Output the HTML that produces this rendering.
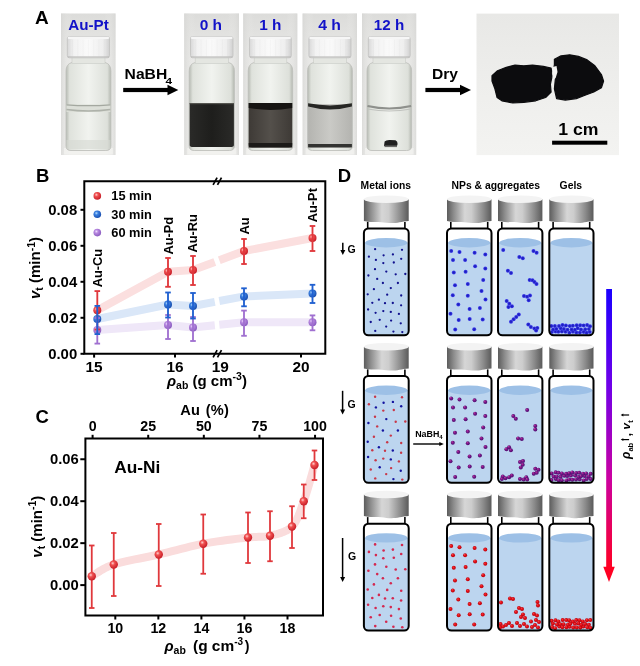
<!DOCTYPE html>
<html><head><meta charset="utf-8"><title>Figure</title>
<style>html,body{margin:0;padding:0;background:#fff;} svg{display:block;}</style></head>
<body><svg width="640" height="666" viewBox="0 0 640 666">
<defs>
<linearGradient id="capg" x1="0" x2="1" y1="0" y2="0">
 <stop offset="0" stop-color="#5c5c5c"/><stop offset="0.15" stop-color="#8c8c8c"/>
 <stop offset="0.4" stop-color="#d6d6d6"/><stop offset="0.55" stop-color="#cdcdcd"/>
 <stop offset="0.82" stop-color="#8a8a8a"/><stop offset="1" stop-color="#5a5a5a"/>
</linearGradient>
<linearGradient id="bar" x1="0" x2="0" y1="0" y2="1">
 <stop offset="0" stop-color="#1a00ff"/><stop offset="0.35" stop-color="#7000e8"/>
 <stop offset="0.68" stop-color="#cc00a0"/><stop offset="1" stop-color="#ff0022"/>
</linearGradient>
<radialGradient id="sr" cx="0.38" cy="0.35" r="0.65"><stop offset="0" stop-color="#ffd0d0"/><stop offset="0.35" stop-color="#f05050"/><stop offset="1" stop-color="#c81e28"/></radialGradient>
<radialGradient id="sb" cx="0.38" cy="0.35" r="0.65"><stop offset="0" stop-color="#b8e0ff"/><stop offset="0.35" stop-color="#3a80e0"/><stop offset="1" stop-color="#1a4fb0"/></radialGradient>
<radialGradient id="sp" cx="0.38" cy="0.35" r="0.65"><stop offset="0" stop-color="#f0e0ff"/><stop offset="0.35" stop-color="#b888e0"/><stop offset="1" stop-color="#8a5cc0"/></radialGradient>
<radialGradient id="nb" cx="0.5" cy="0.5" r="0.5"><stop offset="0" stop-color="#1a1ab0"/><stop offset="0.6" stop-color="#2a2ad8"/><stop offset="1" stop-color="#4646ea"/></radialGradient>
<radialGradient id="np" cx="0.5" cy="0.5" r="0.5" fx="0.3" fy="0.25"><stop offset="0" stop-color="#d03aa0"/><stop offset="0.5" stop-color="#7a1888"/><stop offset="1" stop-color="#4c0c70"/></radialGradient>
<radialGradient id="nr" cx="0.5" cy="0.5" r="0.5" fx="0.35" fy="0.3"><stop offset="0" stop-color="#ff4040"/><stop offset="0.5" stop-color="#e01018"/><stop offset="1" stop-color="#b8000c"/></radialGradient>
<linearGradient id="pbg" x1="0" x2="1" y1="0" y2="0">
 <stop offset="0" stop-color="#d6d6d4" stop-opacity="0.7"/><stop offset="0.2" stop-color="#eeeeec" stop-opacity="0"/><stop offset="0.8" stop-color="#eeeeec" stop-opacity="0"/><stop offset="1" stop-color="#d6d6d4" stop-opacity="0.7"/>
</linearGradient>
<linearGradient id="gelbg" x1="0" x2="0" y1="0" y2="1">
 <stop offset="0" stop-color="#e8e8e6"/><stop offset="0.5" stop-color="#eeeeec"/><stop offset="1" stop-color="#f3f3f1"/>
</linearGradient>
<linearGradient id="pbgv" x1="0" x2="0" y1="0" y2="1">
 <stop offset="0" stop-color="#dcdcda"/><stop offset="0.3" stop-color="#e8e8e6"/><stop offset="1" stop-color="#eeeeec"/>
</linearGradient>
<linearGradient id="glass" x1="0" x2="1" y1="0" y2="0">
 <stop offset="0" stop-color="#b6bab2"/><stop offset="0.08" stop-color="#dfe2dc"/><stop offset="0.5" stop-color="#f1f3ef"/><stop offset="0.92" stop-color="#dde0da"/><stop offset="1" stop-color="#b4b8b0"/>
</linearGradient>
<linearGradient id="capw" x1="0" x2="1" y1="0" y2="0">
 <stop offset="0" stop-color="#d8d8d8"/><stop offset="0.15" stop-color="#f2f2f2"/><stop offset="0.5" stop-color="#fafafa"/><stop offset="0.85" stop-color="#eeeeee"/><stop offset="1" stop-color="#d0d0d0"/>
</linearGradient>
<linearGradient id="dark0" x1="0" x2="1" y1="0" y2="0">
 <stop offset="0" stop-color="#2a2a28"/><stop offset="0.5" stop-color="#1e1e1c"/><stop offset="1" stop-color="#2a2a28"/>
</linearGradient>
<linearGradient id="dark1" x1="0" x2="1" y1="0" y2="0">
 <stop offset="0" stop-color="#3e3a36"/><stop offset="0.5" stop-color="#54504b"/><stop offset="1" stop-color="#3e3a36"/>
</linearGradient>
<linearGradient id="dark4" x1="0" x2="1" y1="0" y2="0">
 <stop offset="0" stop-color="#b4b4b0"/><stop offset="0.5" stop-color="#cacac6"/><stop offset="1" stop-color="#b4b4b0"/>
</linearGradient>
</defs>
<rect width="640" height="666" fill="#fff"/>
<text x="35" y="24.3" style="font-family:'Liberation Sans',Arial,sans-serif;font-weight:bold;font-size:19px" fill="#000">A</text>
<rect x="61" y="13.5" width="54.5" height="141.5" fill="url(#pbgv)"/>
<rect x="61" y="13.5" width="54.5" height="141.5" fill="url(#pbg)"/>
<rect x="64.0" y="148" width="48.900000000000006" height="6.5" fill="#f2f2f0" opacity="0.8"/>
<path d="M72 62.5 Q66.0 64 66.0 71 L66.0 146 Q66.0 150.5 71.0 150.5 L105.9 150.5 Q110.9 150.5 110.9 146 L110.9 71 Q110.9 64 105.0 62.5 Z" fill="url(#glass)" stroke="#bfc1bc" stroke-width="0.9"/>
<rect x="72" y="57.5" width="33.0" height="6" fill="#e4e6e1" stroke="#c9cbc6" stroke-width="0.6"/>
<rect x="67.3" y="36.5" width="42.2" height="21.3" rx="2.2" fill="url(#capw)" stroke="#c2c2c0" stroke-width="0.8"/>
<rect x="67.8" y="36.8" width="41.2" height="2.2" rx="1" fill="#f6f6f6"/>
<line x1="72.6" y1="39.5" x2="72.6" y2="56.5" stroke="#000" stroke-opacity="0.02" stroke-width="1.2"/>
<line x1="77.8" y1="39.5" x2="77.8" y2="56.5" stroke="#000" stroke-opacity="0.02" stroke-width="1.2"/>
<line x1="83.1" y1="39.5" x2="83.1" y2="56.5" stroke="#000" stroke-opacity="0.02" stroke-width="1.2"/>
<line x1="88.4" y1="39.5" x2="88.4" y2="56.5" stroke="#000" stroke-opacity="0.02" stroke-width="1.2"/>
<line x1="93.7" y1="39.5" x2="93.7" y2="56.5" stroke="#000" stroke-opacity="0.02" stroke-width="1.2"/>
<line x1="99.0" y1="39.5" x2="99.0" y2="56.5" stroke="#000" stroke-opacity="0.02" stroke-width="1.2"/>
<line x1="104.2" y1="39.5" x2="104.2" y2="56.5" stroke="#000" stroke-opacity="0.02" stroke-width="1.2"/>
<line x1="67.8" y1="56.9" x2="109.0" y2="56.9" stroke="#b8b8b6" stroke-width="0.9"/>
<rect x="66.5" y="104.5" width="43.900000000000006" height="7.5" fill="#dcdfd8"/>
<path d="M66.5 104.8 Q88.45 106.5 110.4 104.8" stroke="#a4a8a0" stroke-width="1.3" fill="none"/>
<path d="M66.5 109.5 Q88.45 112.5 110.4 109.5" stroke="#aeb2aa" stroke-width="1.4" fill="none"/>
<rect x="66.5" y="140" width="43.900000000000006" height="9" fill="#d6d9d2" opacity="0.6"/>
<text x="68.2" y="30.2" textLength="40.6" lengthAdjust="spacingAndGlyphs" style="font-family:'Liberation Sans',Arial,sans-serif;font-weight:bold;font-size:14.3px" fill="#1212c8">Au-Pt</text>
<rect x="184.2" y="13.5" width="54.80000000000001" height="141.5" fill="url(#pbgv)"/>
<rect x="184.2" y="13.5" width="54.80000000000001" height="141.5" fill="url(#pbg)"/>
<rect x="187.2" y="148" width="49.20000000000002" height="6.5" fill="#f2f2f0" opacity="0.8"/>
<path d="M195.2 62.5 Q189.2 64 189.2 71 L189.2 146 Q189.2 150.5 194.2 150.5 L229.4 150.5 Q234.4 150.5 234.4 146 L234.4 71 Q234.4 64 228.5 62.5 Z" fill="url(#glass)" stroke="#bfc1bc" stroke-width="0.9"/>
<rect x="195.2" y="57.5" width="33.30000000000001" height="6" fill="#e4e6e1" stroke="#c9cbc6" stroke-width="0.6"/>
<rect x="190.5" y="36.5" width="42.500000000000014" height="21.3" rx="2.2" fill="url(#capw)" stroke="#c2c2c0" stroke-width="0.8"/>
<rect x="191.0" y="36.8" width="41.500000000000014" height="2.2" rx="1" fill="#f6f6f6"/>
<line x1="195.8" y1="39.5" x2="195.8" y2="56.5" stroke="#000" stroke-opacity="0.02" stroke-width="1.2"/>
<line x1="201.1" y1="39.5" x2="201.1" y2="56.5" stroke="#000" stroke-opacity="0.02" stroke-width="1.2"/>
<line x1="206.4" y1="39.5" x2="206.4" y2="56.5" stroke="#000" stroke-opacity="0.02" stroke-width="1.2"/>
<line x1="211.8" y1="39.5" x2="211.8" y2="56.5" stroke="#000" stroke-opacity="0.02" stroke-width="1.2"/>
<line x1="217.1" y1="39.5" x2="217.1" y2="56.5" stroke="#000" stroke-opacity="0.02" stroke-width="1.2"/>
<line x1="222.4" y1="39.5" x2="222.4" y2="56.5" stroke="#000" stroke-opacity="0.02" stroke-width="1.2"/>
<line x1="227.7" y1="39.5" x2="227.7" y2="56.5" stroke="#000" stroke-opacity="0.02" stroke-width="1.2"/>
<line x1="191.0" y1="56.9" x2="232.5" y2="56.9" stroke="#b8b8b6" stroke-width="0.9"/>
<path d="M189.7 103 L233.9 103 L233.9 145 Q233.9 147 230.4 147 L193.2 147 Q189.7 147 189.7 145 Z" fill="url(#dark0)"/>
<rect x="189.7" y="103" width="44.20000000000002" height="1.2" fill="#555550"/>
<text x="199.7" y="30.2" textLength="22.4" lengthAdjust="spacingAndGlyphs" style="font-family:'Liberation Sans',Arial,sans-serif;font-weight:bold;font-size:15.3px" fill="#1212c8">0 h</text>
<rect x="243.2" y="13.5" width="54.10000000000002" height="141.5" fill="url(#pbgv)"/>
<rect x="243.2" y="13.5" width="54.10000000000002" height="141.5" fill="url(#pbg)"/>
<rect x="246.2" y="148" width="48.5" height="6.5" fill="#f2f2f0" opacity="0.8"/>
<path d="M254.2 62.5 Q248.2 64 248.2 71 L248.2 146 Q248.2 150.5 253.2 150.5 L287.7 150.5 Q292.7 150.5 292.7 146 L292.7 71 Q292.7 64 286.8 62.5 Z" fill="url(#glass)" stroke="#bfc1bc" stroke-width="0.9"/>
<rect x="254.2" y="57.5" width="32.60000000000002" height="6" fill="#e4e6e1" stroke="#c9cbc6" stroke-width="0.6"/>
<rect x="249.5" y="36.5" width="41.800000000000026" height="21.3" rx="2.2" fill="url(#capw)" stroke="#c2c2c0" stroke-width="0.8"/>
<rect x="250.0" y="36.8" width="40.800000000000026" height="2.2" rx="1" fill="#f6f6f6"/>
<line x1="254.7" y1="39.5" x2="254.7" y2="56.5" stroke="#000" stroke-opacity="0.02" stroke-width="1.2"/>
<line x1="259.9" y1="39.5" x2="259.9" y2="56.5" stroke="#000" stroke-opacity="0.02" stroke-width="1.2"/>
<line x1="265.2" y1="39.5" x2="265.2" y2="56.5" stroke="#000" stroke-opacity="0.02" stroke-width="1.2"/>
<line x1="270.4" y1="39.5" x2="270.4" y2="56.5" stroke="#000" stroke-opacity="0.02" stroke-width="1.2"/>
<line x1="275.6" y1="39.5" x2="275.6" y2="56.5" stroke="#000" stroke-opacity="0.02" stroke-width="1.2"/>
<line x1="280.9" y1="39.5" x2="280.9" y2="56.5" stroke="#000" stroke-opacity="0.02" stroke-width="1.2"/>
<line x1="286.1" y1="39.5" x2="286.1" y2="56.5" stroke="#000" stroke-opacity="0.02" stroke-width="1.2"/>
<line x1="250.0" y1="56.9" x2="290.8" y2="56.9" stroke="#b8b8b6" stroke-width="0.9"/>
<path d="M248.7 103 L292.2 103 L292.2 145 Q292.2 147.5 288.7 147.5 L252.2 147.5 Q248.7 147.5 248.7 145 Z" fill="url(#dark1)"/>
<path d="M248.7 103 L292.2 103 L292.2 108 Q270.45 112 248.7 108 Z" fill="#161412"/>
<rect x="248.7" y="143" width="43.5" height="4.5" fill="#1c1a18"/>
<text x="259.2" y="30.2" textLength="22.2" lengthAdjust="spacingAndGlyphs" style="font-family:'Liberation Sans',Arial,sans-serif;font-weight:bold;font-size:15.3px" fill="#1212c8">1 h</text>
<rect x="302.6" y="13.5" width="54.39999999999998" height="141.5" fill="url(#pbgv)"/>
<rect x="302.6" y="13.5" width="54.39999999999998" height="141.5" fill="url(#pbg)"/>
<rect x="305.6" y="148" width="48.799999999999955" height="6.5" fill="#f2f2f0" opacity="0.8"/>
<path d="M313.6 62.5 Q307.6 64 307.6 71 L307.6 146 Q307.6 150.5 312.6 150.5 L347.4 150.5 Q352.4 150.5 352.4 146 L352.4 71 Q352.4 64 346.5 62.5 Z" fill="url(#glass)" stroke="#bfc1bc" stroke-width="0.9"/>
<rect x="313.6" y="57.5" width="32.89999999999998" height="6" fill="#e4e6e1" stroke="#c9cbc6" stroke-width="0.6"/>
<rect x="308.90000000000003" y="36.5" width="42.09999999999998" height="21.3" rx="2.2" fill="url(#capw)" stroke="#c2c2c0" stroke-width="0.8"/>
<rect x="309.40000000000003" y="36.8" width="41.09999999999998" height="2.2" rx="1" fill="#f6f6f6"/>
<line x1="314.2" y1="39.5" x2="314.2" y2="56.5" stroke="#000" stroke-opacity="0.02" stroke-width="1.2"/>
<line x1="319.4" y1="39.5" x2="319.4" y2="56.5" stroke="#000" stroke-opacity="0.02" stroke-width="1.2"/>
<line x1="324.7" y1="39.5" x2="324.7" y2="56.5" stroke="#000" stroke-opacity="0.02" stroke-width="1.2"/>
<line x1="330.0" y1="39.5" x2="330.0" y2="56.5" stroke="#000" stroke-opacity="0.02" stroke-width="1.2"/>
<line x1="335.2" y1="39.5" x2="335.2" y2="56.5" stroke="#000" stroke-opacity="0.02" stroke-width="1.2"/>
<line x1="340.5" y1="39.5" x2="340.5" y2="56.5" stroke="#000" stroke-opacity="0.02" stroke-width="1.2"/>
<line x1="345.7" y1="39.5" x2="345.7" y2="56.5" stroke="#000" stroke-opacity="0.02" stroke-width="1.2"/>
<line x1="309.40000000000003" y1="56.9" x2="350.5" y2="56.9" stroke="#b8b8b6" stroke-width="0.9"/>
<path d="M308.1 104 L351.9 104 L351.9 145 Q351.9 148 348.4 148 L311.6 148 Q308.1 148 308.1 145 Z" fill="url(#dark4)"/>
<path d="M308.1 103.3 Q330.0 107.5 351.9 103.3 L351.9 106.5 Q330.0 112.5 308.1 106.5 Z" fill="#262624"/>
<rect x="308.1" y="144" width="43.799999999999955" height="3.4" fill="#333331"/>
<text x="318.2" y="30.2" textLength="22.8" lengthAdjust="spacingAndGlyphs" style="font-family:'Liberation Sans',Arial,sans-serif;font-weight:bold;font-size:15.3px" fill="#1212c8">4 h</text>
<rect x="362" y="13.5" width="54.19999999999999" height="141.5" fill="url(#pbgv)"/>
<rect x="362" y="13.5" width="54.19999999999999" height="141.5" fill="url(#pbg)"/>
<rect x="365.0" y="148" width="48.599999999999966" height="6.5" fill="#f2f2f0" opacity="0.8"/>
<path d="M373 62.5 Q367.0 64 367.0 71 L367.0 146 Q367.0 150.5 372.0 150.5 L406.59999999999997 150.5 Q411.59999999999997 150.5 411.59999999999997 146 L411.59999999999997 71 Q411.59999999999997 64 405.7 62.5 Z" fill="url(#glass)" stroke="#bfc1bc" stroke-width="0.9"/>
<rect x="373" y="57.5" width="32.69999999999999" height="6" fill="#e4e6e1" stroke="#c9cbc6" stroke-width="0.6"/>
<rect x="368.3" y="36.5" width="41.89999999999999" height="21.3" rx="2.2" fill="url(#capw)" stroke="#c2c2c0" stroke-width="0.8"/>
<rect x="368.8" y="36.8" width="40.89999999999999" height="2.2" rx="1" fill="#f6f6f6"/>
<line x1="373.5" y1="39.5" x2="373.5" y2="56.5" stroke="#000" stroke-opacity="0.02" stroke-width="1.2"/>
<line x1="378.8" y1="39.5" x2="378.8" y2="56.5" stroke="#000" stroke-opacity="0.02" stroke-width="1.2"/>
<line x1="384.0" y1="39.5" x2="384.0" y2="56.5" stroke="#000" stroke-opacity="0.02" stroke-width="1.2"/>
<line x1="389.2" y1="39.5" x2="389.2" y2="56.5" stroke="#000" stroke-opacity="0.02" stroke-width="1.2"/>
<line x1="394.5" y1="39.5" x2="394.5" y2="56.5" stroke="#000" stroke-opacity="0.02" stroke-width="1.2"/>
<line x1="399.7" y1="39.5" x2="399.7" y2="56.5" stroke="#000" stroke-opacity="0.02" stroke-width="1.2"/>
<line x1="405.0" y1="39.5" x2="405.0" y2="56.5" stroke="#000" stroke-opacity="0.02" stroke-width="1.2"/>
<line x1="368.8" y1="56.9" x2="409.7" y2="56.9" stroke="#b8b8b6" stroke-width="0.9"/>
<path d="M367.5 106 Q389.29999999999995 111 411.09999999999997 106" stroke="#8e908c" stroke-width="2" fill="none"/>
<path d="M367.5 109 Q389.29999999999995 113 411.09999999999997 109" stroke="#c0c2be" stroke-width="1.2" fill="none"/>
<path d="M384 146 L384.6 141.5 Q386 139.8 390 140 L395.5 140.2 Q397.8 141.5 397.6 144 L397 146 Z" fill="#202020"/>
<rect x="384.5" y="145.5" width="12.5" height="1.6" fill="#6a6a68"/>
<text x="373.8" y="30.2" textLength="30.4" lengthAdjust="spacingAndGlyphs" style="font-family:'Liberation Sans',Arial,sans-serif;font-weight:bold;font-size:15.3px" fill="#1212c8">12 h</text>
<text x="124.6" y="79.3" textLength="42.6" lengthAdjust="spacingAndGlyphs" style="font-family:'Liberation Sans',Arial,sans-serif;font-weight:bold;font-size:14.5px" fill="#000">NaBH</text>
<text x="165.6" y="83.8" textLength="6.6" lengthAdjust="spacingAndGlyphs" style="font-family:'Liberation Sans',Arial,sans-serif;font-weight:bold;font-size:9px" fill="#000">4</text>
<rect x="123.2" y="87.9" width="45.3" height="4.2" fill="#000"/>
<path d="M167.5 84.8 L178.3 90 L167.5 95.2 Z" fill="#000"/>
<text x="432" y="79.3" textLength="26" lengthAdjust="spacingAndGlyphs" style="font-family:'Liberation Sans',Arial,sans-serif;font-weight:bold;font-size:14.3px" fill="#000">Dry</text>
<rect x="425.4" y="87.9" width="35.60000000000002" height="4.2" fill="#000"/>
<path d="M460 84.8 L471 90 L460 95.2 Z" fill="#000"/>
<rect x="476.5" y="13.6" width="142.5" height="141.5" fill="url(#gelbg)"/>
<polygon points="492,75.6 497.5,70.8 506.3,67.3 515,65.1 523.8,65.8 532.5,65.1 543.4,66.4 551.1,68 552.2,75.6 550.4,84.4 551.1,92 545.6,97.5 535.8,100.8 523.8,102.3 512.8,103 501.9,100.8 497.1,97.5 494.9,88.75 492,81" fill="#0c0c0e" stroke="#0c0c0e" stroke-width="1.2" stroke-linejoin="round"/>
<polygon points="554.4,59.2 561,55.9 569.7,54.8 578.4,56.4 587.2,59.9 594.9,65.8 601.4,74.5 603.6,81.1 601.4,87.7 593.8,92 585,95.3 576.3,98.6 565.3,100.1 556.6,98.6 554.4,88.75 555.5,77.8 553.3,71.25 554.4,64.7" fill="#0c0c0e" stroke="#0c0c0e" stroke-width="1.2" stroke-linejoin="round"/>
<path d="M552.6 67 L556.5 66 L557.5 72 L555.6 78 L553.2 80 L552.2 74 Z" fill="#f4f4f2"/>
<text x="558.3" y="135.2" textLength="40.2" lengthAdjust="spacingAndGlyphs" style="font-family:'Liberation Sans',Arial,sans-serif;font-weight:bold;font-size:16px" fill="#000">1 cm</text>
<rect x="552.1" y="140.7" width="55.2" height="4" fill="#000"/>
<text x="36" y="181.9" style="font-family:'Liberation Sans',Arial,sans-serif;font-weight:bold;font-size:18.5px" fill="#000">B</text>
<polyline points="97.3,310.3 168,271.8 193,270.0 214.8,261.878431372549" fill="none" stroke="#fbdfdf" stroke-width="8" stroke-linejoin="round" stroke-linecap="butt"/>
<polyline points="219.3,260.2019607843137 244,251.0 312.5,238.0" fill="none" stroke="#fbdfdf" stroke-width="8" stroke-linejoin="round" stroke-linecap="butt"/>
<polyline points="97.3,319.0 168,304.5 193,306.0 214.8,301.8964705882353" fill="none" stroke="#dae7f8" stroke-width="8" stroke-linejoin="round" stroke-linecap="butt"/>
<polyline points="219.3,301.0494117647059 244,296.4 312.5,293.6" fill="none" stroke="#dae7f8" stroke-width="8" stroke-linejoin="round" stroke-linecap="butt"/>
<polyline points="97.3,330.0 168,325.0 193,327.5 214.8,325.2345098039216" fill="none" stroke="#efe7f8" stroke-width="8" stroke-linejoin="round" stroke-linecap="butt"/>
<polyline points="219.3,324.766862745098 244,322.2 312.5,322.2" fill="none" stroke="#efe7f8" stroke-width="8" stroke-linejoin="round" stroke-linecap="butt"/>
<circle cx="97.3" cy="310.3" r="4.0" fill="url(#sr)"/>
<circle cx="168" cy="271.8" r="4.0" fill="url(#sr)"/>
<circle cx="193" cy="270.0" r="4.0" fill="url(#sr)"/>
<circle cx="244" cy="251.0" r="4.0" fill="url(#sr)"/>
<circle cx="312.5" cy="238.0" r="4.0" fill="url(#sr)"/>
<circle cx="97.3" cy="319.0" r="4.0" fill="url(#sb)"/>
<circle cx="168" cy="304.5" r="4.0" fill="url(#sb)"/>
<circle cx="193" cy="306.0" r="4.0" fill="url(#sb)"/>
<circle cx="244" cy="296.4" r="4.0" fill="url(#sb)"/>
<circle cx="312.5" cy="293.6" r="4.0" fill="url(#sb)"/>
<circle cx="97.3" cy="330.0" r="4.0" fill="url(#sp)"/>
<circle cx="168" cy="325.0" r="4.0" fill="url(#sp)"/>
<circle cx="193" cy="327.5" r="4.0" fill="url(#sp)"/>
<circle cx="244" cy="322.2" r="4.0" fill="url(#sp)"/>
<circle cx="312.5" cy="322.2" r="4.0" fill="url(#sp)"/>
<line x1="97.3" y1="291.1" x2="97.3" y2="329.5" stroke="#e0383c" stroke-width="1.85"/>
<line x1="94.5" y1="291.1" x2="100.1" y2="291.1" stroke="#e0383c" stroke-width="1.85"/>
<line x1="94.5" y1="329.5" x2="100.1" y2="329.5" stroke="#e0383c" stroke-width="1.85"/>
<line x1="168" y1="258" x2="168" y2="286.8" stroke="#e0383c" stroke-width="1.85"/>
<line x1="165.2" y1="258" x2="170.8" y2="258" stroke="#e0383c" stroke-width="1.85"/>
<line x1="165.2" y1="286.8" x2="170.8" y2="286.8" stroke="#e0383c" stroke-width="1.85"/>
<line x1="193" y1="256" x2="193" y2="285" stroke="#e0383c" stroke-width="1.85"/>
<line x1="190.2" y1="256" x2="195.8" y2="256" stroke="#e0383c" stroke-width="1.85"/>
<line x1="190.2" y1="285" x2="195.8" y2="285" stroke="#e0383c" stroke-width="1.85"/>
<line x1="244" y1="239" x2="244" y2="264" stroke="#e0383c" stroke-width="1.85"/>
<line x1="241.2" y1="239" x2="246.8" y2="239" stroke="#e0383c" stroke-width="1.85"/>
<line x1="241.2" y1="264" x2="246.8" y2="264" stroke="#e0383c" stroke-width="1.85"/>
<line x1="312.5" y1="226" x2="312.5" y2="251" stroke="#e0383c" stroke-width="1.85"/>
<line x1="309.7" y1="226" x2="315.3" y2="226" stroke="#e0383c" stroke-width="1.85"/>
<line x1="309.7" y1="251" x2="315.3" y2="251" stroke="#e0383c" stroke-width="1.85"/>
<line x1="97.3" y1="318" x2="97.3" y2="343.6" stroke="#a070d0" stroke-width="1.85"/>
<line x1="94.5" y1="318" x2="100.1" y2="318" stroke="#a070d0" stroke-width="1.85"/>
<line x1="94.5" y1="343.6" x2="100.1" y2="343.6" stroke="#a070d0" stroke-width="1.85"/>
<line x1="168" y1="315" x2="168" y2="339" stroke="#a070d0" stroke-width="1.85"/>
<line x1="165.2" y1="315" x2="170.8" y2="315" stroke="#a070d0" stroke-width="1.85"/>
<line x1="165.2" y1="339" x2="170.8" y2="339" stroke="#a070d0" stroke-width="1.85"/>
<line x1="193" y1="317" x2="193" y2="341" stroke="#a070d0" stroke-width="1.85"/>
<line x1="190.2" y1="317" x2="195.8" y2="317" stroke="#a070d0" stroke-width="1.85"/>
<line x1="190.2" y1="341" x2="195.8" y2="341" stroke="#a070d0" stroke-width="1.85"/>
<line x1="244" y1="310.6" x2="244" y2="335.8" stroke="#a070d0" stroke-width="1.85"/>
<line x1="241.2" y1="310.6" x2="246.8" y2="310.6" stroke="#a070d0" stroke-width="1.85"/>
<line x1="241.2" y1="335.8" x2="246.8" y2="335.8" stroke="#a070d0" stroke-width="1.85"/>
<line x1="312.5" y1="315.4" x2="312.5" y2="330.3" stroke="#a070d0" stroke-width="1.85"/>
<line x1="309.7" y1="315.4" x2="315.3" y2="315.4" stroke="#a070d0" stroke-width="1.85"/>
<line x1="309.7" y1="330.3" x2="315.3" y2="330.3" stroke="#a070d0" stroke-width="1.85"/>
<line x1="97.3" y1="305.9" x2="97.3" y2="334.1" stroke="#2060d0" stroke-width="1.85"/>
<line x1="94.5" y1="305.9" x2="100.1" y2="305.9" stroke="#2060d0" stroke-width="1.85"/>
<line x1="94.5" y1="334.1" x2="100.1" y2="334.1" stroke="#2060d0" stroke-width="1.85"/>
<line x1="168" y1="292.5" x2="168" y2="317.5" stroke="#2060d0" stroke-width="1.85"/>
<line x1="165.2" y1="292.5" x2="170.8" y2="292.5" stroke="#2060d0" stroke-width="1.85"/>
<line x1="165.2" y1="317.5" x2="170.8" y2="317.5" stroke="#2060d0" stroke-width="1.85"/>
<line x1="193" y1="293" x2="193" y2="318.5" stroke="#2060d0" stroke-width="1.85"/>
<line x1="190.2" y1="293" x2="195.8" y2="293" stroke="#2060d0" stroke-width="1.85"/>
<line x1="190.2" y1="318.5" x2="195.8" y2="318.5" stroke="#2060d0" stroke-width="1.85"/>
<line x1="244" y1="288.3" x2="244" y2="306.3" stroke="#2060d0" stroke-width="1.85"/>
<line x1="241.2" y1="288.3" x2="246.8" y2="288.3" stroke="#2060d0" stroke-width="1.85"/>
<line x1="241.2" y1="306.3" x2="246.8" y2="306.3" stroke="#2060d0" stroke-width="1.85"/>
<line x1="312.5" y1="284.8" x2="312.5" y2="303" stroke="#2060d0" stroke-width="1.85"/>
<line x1="309.7" y1="284.8" x2="315.3" y2="284.8" stroke="#2060d0" stroke-width="1.85"/>
<line x1="309.7" y1="303" x2="315.3" y2="303" stroke="#2060d0" stroke-width="1.85"/>
<path d="M84.3 181.2 L84.3 353.8 L325.3 353.8 L325.3 181.2 Z" fill="none" stroke="#000" stroke-width="2"/>
<line x1="213.1" y1="184.79999999999998" x2="217.1" y2="177.6" stroke="#000" stroke-width="1.7"/>
<line x1="217.5" y1="184.79999999999998" x2="221.5" y2="177.6" stroke="#000" stroke-width="1.7"/>
<line x1="213.1" y1="357.40000000000003" x2="217.1" y2="350.2" stroke="#000" stroke-width="1.7"/>
<line x1="217.5" y1="357.40000000000003" x2="221.5" y2="350.2" stroke="#000" stroke-width="1.7"/>
<line x1="80.5" y1="353.8" x2="84.3" y2="353.8" stroke="#000" stroke-width="2"/>
<text x="77.2" y="359.1" text-anchor="end" style="font-family:'Liberation Sans',Arial,sans-serif;font-weight:bold;font-size:14.9px" fill="#000">0.00</text>
<line x1="80.5" y1="317.8" x2="84.3" y2="317.8" stroke="#000" stroke-width="2"/>
<text x="77.2" y="323.1" text-anchor="end" style="font-family:'Liberation Sans',Arial,sans-serif;font-weight:bold;font-size:14.9px" fill="#000">0.02</text>
<line x1="80.5" y1="281.8" x2="84.3" y2="281.8" stroke="#000" stroke-width="2"/>
<text x="77.2" y="287.1" text-anchor="end" style="font-family:'Liberation Sans',Arial,sans-serif;font-weight:bold;font-size:14.9px" fill="#000">0.04</text>
<line x1="80.5" y1="245.8" x2="84.3" y2="245.8" stroke="#000" stroke-width="2"/>
<text x="77.2" y="251.10000000000002" text-anchor="end" style="font-family:'Liberation Sans',Arial,sans-serif;font-weight:bold;font-size:14.9px" fill="#000">0.06</text>
<line x1="80.5" y1="209.8" x2="84.3" y2="209.8" stroke="#000" stroke-width="2"/>
<text x="77.2" y="215.10000000000002" text-anchor="end" style="font-family:'Liberation Sans',Arial,sans-serif;font-weight:bold;font-size:14.9px" fill="#000">0.08</text>
<line x1="94.1" y1="353.8" x2="94.1" y2="357.6" stroke="#000" stroke-width="2"/>
<text x="94.1" y="372.1" text-anchor="middle" style="font-family:'Liberation Sans',Arial,sans-serif;font-weight:bold;font-size:15.4px" fill="#000">15</text>
<line x1="175" y1="353.8" x2="175" y2="357.6" stroke="#000" stroke-width="2"/>
<text x="175" y="372.1" text-anchor="middle" style="font-family:'Liberation Sans',Arial,sans-serif;font-weight:bold;font-size:15.4px" fill="#000">16</text>
<text x="220.2" y="372.1" text-anchor="middle" style="font-family:'Liberation Sans',Arial,sans-serif;font-weight:bold;font-size:15.4px" fill="#000">19</text>
<line x1="301" y1="353.8" x2="301" y2="357.6" stroke="#000" stroke-width="2"/>
<text x="301" y="372.1" text-anchor="middle" style="font-family:'Liberation Sans',Arial,sans-serif;font-weight:bold;font-size:15.4px" fill="#000">20</text>
<text x="167" y="385.5" style="font-family:'Liberation Sans',Arial,sans-serif;font-weight:bold;font-size:15px" fill="#000"><tspan font-style="italic">ρ</tspan><tspan font-size="10.5px" dy="3">ab</tspan><tspan dy="-3"> (g cm</tspan><tspan font-size="10.5px" dy="-5.5">-3</tspan><tspan dy="5.5">)</tspan></text>
<text transform="translate(40.0,268) rotate(-90)" text-anchor="middle" style="font-family:'Liberation Sans',Arial,sans-serif;font-weight:bold;font-size:15px" fill="#000"><tspan font-style="italic">v</tspan><tspan font-size="10.5px" dy="3">t</tspan><tspan dy="-3"> (min</tspan><tspan font-size="10.5px" dy="-5.5">-1</tspan><tspan dy="5.5">)</tspan></text>
<circle cx="97.3" cy="195.9" r="3.8" fill="url(#sr)"/>
<text x="111.3" y="200.1" style="font-family:'Liberation Sans',Arial,sans-serif;font-weight:bold;font-size:12.8px" fill="#000">15 min</text>
<circle cx="97.3" cy="214.3" r="3.8" fill="url(#sb)"/>
<text x="111.3" y="218.5" style="font-family:'Liberation Sans',Arial,sans-serif;font-weight:bold;font-size:12.8px" fill="#000">30 min</text>
<circle cx="97.3" cy="232.6" r="3.8" fill="url(#sp)"/>
<text x="111.3" y="236.79999999999998" style="font-family:'Liberation Sans',Arial,sans-serif;font-weight:bold;font-size:12.8px" fill="#000">60 min</text>
<text transform="translate(102.4,287.2) rotate(-90)" style="font-family:'Liberation Sans',Arial,sans-serif;font-weight:bold;font-size:12.8px" fill="#000">Au-Cu</text>
<text transform="translate(173.0,254.5) rotate(-90)" style="font-family:'Liberation Sans',Arial,sans-serif;font-weight:bold;font-size:12.8px" fill="#000">Au-Pd</text>
<text transform="translate(197.3,252.6) rotate(-90)" style="font-family:'Liberation Sans',Arial,sans-serif;font-weight:bold;font-size:12.8px" fill="#000">Au-Ru</text>
<text transform="translate(249.4,234.6) rotate(-90)" style="font-family:'Liberation Sans',Arial,sans-serif;font-weight:bold;font-size:12.8px" fill="#000">Au</text>
<text transform="translate(317.4,222.2) rotate(-90)" style="font-family:'Liberation Sans',Arial,sans-serif;font-weight:bold;font-size:12.8px" fill="#000">Au-Pt</text>
<text x="35.4" y="422.5" style="font-family:'Liberation Sans',Arial,sans-serif;font-weight:bold;font-size:18.5px" fill="#000">C</text>
<polyline points="91.75,576.25 92.96,575.54 94.37,574.62 96.01,573.53 97.86,572.31 99.94,571.00 102.24,569.64 104.77,568.27 107.53,566.93 110.52,565.66 113.75,564.50 117.32,563.43 121.29,562.40 125.58,561.39 130.12,560.41 134.84,559.44 139.68,558.47 144.56,557.50 149.41,556.52 154.17,555.52 158.75,554.50 163.22,553.44 167.68,552.33 172.13,551.19 176.57,550.04 181.02,548.89 185.46,547.76 189.90,546.67 194.34,545.62 198.79,544.65 203.25,543.75 207.82,542.92 212.55,542.14 217.37,541.40 222.22,540.71 227.03,540.06 231.73,539.46 236.24,538.90 240.50,538.39 244.45,537.92 248.00,537.50 251.12,537.18 253.86,536.98 256.27,536.88 258.44,536.84 260.42,536.81 262.29,536.77 264.12,536.68 265.96,536.51 267.90,536.21 270.00,535.75 272.25,535.20 274.56,534.64 276.92,534.03 279.29,533.36 281.64,532.59 283.94,531.71 286.15,530.69 288.26,529.49 290.22,528.11 292.00,526.50 293.59,524.67 295.02,522.65 296.31,520.45 297.49,518.08 298.58,515.56 299.61,512.91 300.62,510.14 301.63,507.26 302.66,504.29 303.75,501.25 304.91,497.91 306.14,494.12 307.39,490.04 308.64,485.80 309.86,481.55 311.02,477.42 312.10,473.56 313.05,470.11 313.86,467.21 314.50,465.00" fill="none" stroke="#fadcdc" stroke-width="8" stroke-linejoin="round"/>
<line x1="91.75" y1="545.5" x2="91.75" y2="608" stroke="#e0383c" stroke-width="1.8"/>
<line x1="89.0" y1="545.5" x2="94.5" y2="545.5" stroke="#e0383c" stroke-width="1.8"/>
<line x1="89.0" y1="608" x2="94.5" y2="608" stroke="#e0383c" stroke-width="1.8"/>
<circle cx="91.75" cy="576.25" r="4.2" fill="url(#sr)"/>
<line x1="113.75" y1="533" x2="113.75" y2="596" stroke="#e0383c" stroke-width="1.8"/>
<line x1="111.0" y1="533" x2="116.5" y2="533" stroke="#e0383c" stroke-width="1.8"/>
<line x1="111.0" y1="596" x2="116.5" y2="596" stroke="#e0383c" stroke-width="1.8"/>
<circle cx="113.75" cy="564.5" r="4.2" fill="url(#sr)"/>
<line x1="158.75" y1="524" x2="158.75" y2="586" stroke="#e0383c" stroke-width="1.8"/>
<line x1="156.0" y1="524" x2="161.5" y2="524" stroke="#e0383c" stroke-width="1.8"/>
<line x1="156.0" y1="586" x2="161.5" y2="586" stroke="#e0383c" stroke-width="1.8"/>
<circle cx="158.75" cy="554.5" r="4.2" fill="url(#sr)"/>
<line x1="203.25" y1="514.5" x2="203.25" y2="573.75" stroke="#e0383c" stroke-width="1.8"/>
<line x1="200.5" y1="514.5" x2="206.0" y2="514.5" stroke="#e0383c" stroke-width="1.8"/>
<line x1="200.5" y1="573.75" x2="206.0" y2="573.75" stroke="#e0383c" stroke-width="1.8"/>
<circle cx="203.25" cy="543.75" r="4.2" fill="url(#sr)"/>
<line x1="248" y1="512.5" x2="248" y2="563" stroke="#e0383c" stroke-width="1.8"/>
<line x1="245.25" y1="512.5" x2="250.75" y2="512.5" stroke="#e0383c" stroke-width="1.8"/>
<line x1="245.25" y1="563" x2="250.75" y2="563" stroke="#e0383c" stroke-width="1.8"/>
<circle cx="248" cy="537.5" r="4.2" fill="url(#sr)"/>
<line x1="270" y1="511.25" x2="270" y2="561.25" stroke="#e0383c" stroke-width="1.8"/>
<line x1="267.25" y1="511.25" x2="272.75" y2="511.25" stroke="#e0383c" stroke-width="1.8"/>
<line x1="267.25" y1="561.25" x2="272.75" y2="561.25" stroke="#e0383c" stroke-width="1.8"/>
<circle cx="270" cy="535.75" r="4.2" fill="url(#sr)"/>
<line x1="292" y1="506.25" x2="292" y2="548" stroke="#e0383c" stroke-width="1.8"/>
<line x1="289.25" y1="506.25" x2="294.75" y2="506.25" stroke="#e0383c" stroke-width="1.8"/>
<line x1="289.25" y1="548" x2="294.75" y2="548" stroke="#e0383c" stroke-width="1.8"/>
<circle cx="292" cy="526.5" r="4.2" fill="url(#sr)"/>
<line x1="303.75" y1="484.5" x2="303.75" y2="518.25" stroke="#e0383c" stroke-width="1.8"/>
<line x1="301.0" y1="484.5" x2="306.5" y2="484.5" stroke="#e0383c" stroke-width="1.8"/>
<line x1="301.0" y1="518.25" x2="306.5" y2="518.25" stroke="#e0383c" stroke-width="1.8"/>
<circle cx="303.75" cy="501.25" r="4.2" fill="url(#sr)"/>
<line x1="314.5" y1="450.5" x2="314.5" y2="480" stroke="#e0383c" stroke-width="1.8"/>
<line x1="311.75" y1="450.5" x2="317.25" y2="450.5" stroke="#e0383c" stroke-width="1.8"/>
<line x1="311.75" y1="480" x2="317.25" y2="480" stroke="#e0383c" stroke-width="1.8"/>
<circle cx="314.5" cy="465" r="4.2" fill="url(#sr)"/>
<path d="M85.4 438.6 L85.4 615.5 L323.0 615.5 L323.0 438.6 Z" fill="none" stroke="#000" stroke-width="2"/>
<line x1="80.3" y1="585.1" x2="85.4" y2="585.1" stroke="#000" stroke-width="2"/>
<text x="78.8" y="590.3000000000001" text-anchor="end" style="font-family:'Liberation Sans',Arial,sans-serif;font-weight:bold;font-size:14.8px" fill="#000">0.00</text>
<line x1="80.3" y1="543.15" x2="85.4" y2="543.15" stroke="#000" stroke-width="2"/>
<text x="78.8" y="548.35" text-anchor="end" style="font-family:'Liberation Sans',Arial,sans-serif;font-weight:bold;font-size:14.8px" fill="#000">0.02</text>
<line x1="80.3" y1="501.20000000000005" x2="85.4" y2="501.20000000000005" stroke="#000" stroke-width="2"/>
<text x="78.8" y="506.40000000000003" text-anchor="end" style="font-family:'Liberation Sans',Arial,sans-serif;font-weight:bold;font-size:14.8px" fill="#000">0.04</text>
<line x1="80.3" y1="459.25" x2="85.4" y2="459.25" stroke="#000" stroke-width="2"/>
<text x="78.8" y="464.45" text-anchor="end" style="font-family:'Liberation Sans',Arial,sans-serif;font-weight:bold;font-size:14.8px" fill="#000">0.06</text>
<line x1="115.3" y1="615.5" x2="115.3" y2="619.5" stroke="#000" stroke-width="2"/>
<text x="115.3" y="632.8" text-anchor="middle" style="font-family:'Liberation Sans',Arial,sans-serif;font-weight:bold;font-size:14.2px" fill="#000">10</text>
<line x1="158.35" y1="615.5" x2="158.35" y2="619.5" stroke="#000" stroke-width="2"/>
<text x="158.35" y="632.8" text-anchor="middle" style="font-family:'Liberation Sans',Arial,sans-serif;font-weight:bold;font-size:14.2px" fill="#000">12</text>
<line x1="201.39999999999998" y1="615.5" x2="201.39999999999998" y2="619.5" stroke="#000" stroke-width="2"/>
<text x="201.39999999999998" y="632.8" text-anchor="middle" style="font-family:'Liberation Sans',Arial,sans-serif;font-weight:bold;font-size:14.2px" fill="#000">14</text>
<line x1="244.45" y1="615.5" x2="244.45" y2="619.5" stroke="#000" stroke-width="2"/>
<text x="244.45" y="632.8" text-anchor="middle" style="font-family:'Liberation Sans',Arial,sans-serif;font-weight:bold;font-size:14.2px" fill="#000">16</text>
<line x1="287.5" y1="615.5" x2="287.5" y2="619.5" stroke="#000" stroke-width="2"/>
<text x="287.5" y="632.8" text-anchor="middle" style="font-family:'Liberation Sans',Arial,sans-serif;font-weight:bold;font-size:14.2px" fill="#000">18</text>
<line x1="92.6" y1="438.6" x2="92.6" y2="434.8" stroke="#000" stroke-width="2"/>
<text x="92.6" y="430.8" text-anchor="middle" style="font-family:'Liberation Sans',Arial,sans-serif;font-weight:bold;font-size:14.2px" fill="#000">0</text>
<line x1="148.21249999999998" y1="438.6" x2="148.21249999999998" y2="434.8" stroke="#000" stroke-width="2"/>
<text x="148.21249999999998" y="430.8" text-anchor="middle" style="font-family:'Liberation Sans',Arial,sans-serif;font-weight:bold;font-size:14.2px" fill="#000">25</text>
<line x1="203.825" y1="438.6" x2="203.825" y2="434.8" stroke="#000" stroke-width="2"/>
<text x="203.825" y="430.8" text-anchor="middle" style="font-family:'Liberation Sans',Arial,sans-serif;font-weight:bold;font-size:14.2px" fill="#000">50</text>
<line x1="259.4375" y1="438.6" x2="259.4375" y2="434.8" stroke="#000" stroke-width="2"/>
<text x="259.4375" y="430.8" text-anchor="middle" style="font-family:'Liberation Sans',Arial,sans-serif;font-weight:bold;font-size:14.2px" fill="#000">75</text>
<line x1="315.04999999999995" y1="438.6" x2="315.04999999999995" y2="434.8" stroke="#000" stroke-width="2"/>
<text x="315.04999999999995" y="430.8" text-anchor="middle" style="font-family:'Liberation Sans',Arial,sans-serif;font-weight:bold;font-size:14.2px" fill="#000">100</text>
<text x="180.2" y="414.8" style="font-family:'Liberation Sans',Arial,sans-serif;font-weight:bold;font-size:14.6px;letter-spacing:0.25px;word-spacing:1.2px" fill="#000">Au (%)</text>
<text x="114.2" y="473.2" style="font-family:'Liberation Sans',Arial,sans-serif;font-weight:bold;font-size:17.3px" fill="#000">Au-Ni</text>
<text x="164.4" y="651" style="font-family:'Liberation Sans',Arial,sans-serif;font-weight:bold;font-size:15px;font-style:italic" fill="#000">ρ</text>
<text x="173.6" y="654.2" style="font-family:'Liberation Sans',Arial,sans-serif;font-weight:bold;font-size:10.5px" fill="#000">ab</text>
<text x="193" y="651" textLength="41.2" lengthAdjust="spacingAndGlyphs" style="font-family:'Liberation Sans',Arial,sans-serif;font-weight:bold;font-size:14.2px" fill="#000">(g cm</text>
<text x="234.2" y="645.2" style="font-family:'Liberation Sans',Arial,sans-serif;font-weight:bold;font-size:10px" fill="#000">-3</text>
<text x="244.8" y="651" style="font-family:'Liberation Sans',Arial,sans-serif;font-weight:bold;font-size:14.2px" fill="#000">)</text>
<text transform="translate(41.8,526.7) rotate(-90)" text-anchor="middle" style="font-family:'Liberation Sans',Arial,sans-serif;font-weight:bold;font-size:15px" fill="#000"><tspan font-style="italic">v</tspan><tspan font-size="10.5px" dy="3">t</tspan><tspan dy="-3"> (min</tspan><tspan font-size="10.5px" dy="-5.5">-1</tspan><tspan dy="5.5">)</tspan></text>
<text x="337.8" y="182" style="font-family:'Liberation Sans',Arial,sans-serif;font-weight:bold;font-size:18.5px" fill="#000">D</text>
<text x="360.6" y="188.8" style="font-family:'Liberation Sans',Arial,sans-serif;font-weight:bold;font-size:10.3px" fill="#000">Metal ions</text>
<text x="451.6" y="188.8" style="font-family:'Liberation Sans',Arial,sans-serif;font-weight:bold;font-size:10.35px" fill="#000">NPs &amp; aggregates</text>
<text x="559.6" y="188.8" style="font-family:'Liberation Sans',Arial,sans-serif;font-weight:bold;font-size:10.4px" fill="#000">Gels</text>
<path d="M363.9 199.3 L363.9 220.9 C375.09999999999997 223.1 379.5799999999999 221.5 386.29999999999995 222.70000000000002 C395.25999999999993 223.9 399.74 221.70000000000002 408.7 220.9 L408.7 199.3 Z" fill="url(#capg)"/>
<ellipse cx="386.29999999999995" cy="199.3" rx="22.400000000000006" ry="3.8" fill="#f3f3f3"/>
<line x1="367.7" y1="221.9" x2="367.7" y2="228.5" stroke="#000" stroke-width="1.6"/>
<line x1="404.9" y1="221.9" x2="404.9" y2="228.5" stroke="#000" stroke-width="1.6"/>
<rect x="363.9" y="228.5" width="44.80000000000001" height="106.8" rx="4.5" fill="#fff"/>
<clipPath id="cp362_227"><rect x="363.9" y="228.5" width="44.80000000000001" height="106.8" rx="4.5"/></clipPath>
<g clip-path="url(#cp362_227)">
<rect x="362.9" y="242.7" width="46.80000000000001" height="93.60000000000002" fill="#bcd5ef"/>
<ellipse cx="386.29999999999995" cy="242.7" rx="21.200000000000006" ry="4.7" fill="#9dc0e6"/>
<circle cx="375.1" cy="249.2" r="1.15" fill="#12128e"/><circle cx="402" cy="249.8" r="1.15" fill="#12128e"/><circle cx="383.6" cy="255.3" r="1.15" fill="#12128e"/><circle cx="392.9" cy="254.4" r="1.15" fill="#12128e"/><circle cx="368.9" cy="256.7" r="1.15" fill="#12128e"/><circle cx="375.9" cy="259.9" r="1.15" fill="#12128e"/><circle cx="401.2" cy="258.8" r="1.15" fill="#12128e"/><circle cx="383.3" cy="263.1" r="1.15" fill="#12128e"/><circle cx="393.8" cy="262.5" r="1.15" fill="#12128e"/><circle cx="375" cy="269.2" r="1.15" fill="#12128e"/><circle cx="386.3" cy="271.6" r="1.15" fill="#12128e"/><circle cx="368.4" cy="275.5" r="1.15" fill="#12128e"/><circle cx="395.7" cy="274.3" r="1.15" fill="#12128e"/><circle cx="405.3" cy="274.0" r="1.15" fill="#12128e"/><circle cx="377.2" cy="278.9" r="1.15" fill="#12128e"/><circle cx="382.9" cy="283.0" r="1.15" fill="#12128e"/><circle cx="397.9" cy="283.0" r="1.15" fill="#12128e"/><circle cx="373.9" cy="289.2" r="1.15" fill="#12128e"/><circle cx="390.8" cy="288.1" r="1.15" fill="#12128e"/><circle cx="367.7" cy="294.3" r="1.15" fill="#12128e"/><circle cx="387.2" cy="294.7" r="1.15" fill="#12128e"/><circle cx="401.2" cy="295.5" r="1.15" fill="#12128e"/><circle cx="378.9" cy="299.7" r="1.15" fill="#12128e"/><circle cx="372.3" cy="302.8" r="1.15" fill="#12128e"/><circle cx="385" cy="303.2" r="1.15" fill="#12128e"/><circle cx="392.8" cy="303.0" r="1.15" fill="#12128e"/><circle cx="401.1" cy="305.3" r="1.15" fill="#12128e"/><circle cx="368.1" cy="309.5" r="1.15" fill="#12128e"/><circle cx="375.6" cy="312.8" r="1.15" fill="#12128e"/><circle cx="383.3" cy="311.1" r="1.15" fill="#12128e"/><circle cx="390.8" cy="311.9" r="1.15" fill="#12128e"/><circle cx="398.9" cy="313.9" r="1.15" fill="#12128e"/><circle cx="370.75" cy="322.0" r="1.15" fill="#12128e"/><circle cx="379.7" cy="319.8" r="1.15" fill="#12128e"/><circle cx="391.1" cy="320.6" r="1.15" fill="#12128e"/><circle cx="400.75" cy="323.3" r="1.15" fill="#12128e"/><circle cx="386.2" cy="326.6" r="1.15" fill="#12128e"/><circle cx="375.25" cy="330.9" r="1.15" fill="#12128e"/><circle cx="393.4" cy="331.6" r="1.15" fill="#12128e"/><circle cx="402.3" cy="332.1" r="1.15" fill="#12128e"/>
</g>
<rect x="363.9" y="228.5" width="44.80000000000001" height="106.8" rx="4.5" fill="none" stroke="#000" stroke-width="2"/>
<path d="M447.0 199.3 L447.0 220.9 C458.125 223.1 462.575 221.5 469.25 222.70000000000002 C478.15 223.9 482.6 221.70000000000002 491.5 220.9 L491.5 199.3 Z" fill="url(#capg)"/>
<ellipse cx="469.25" cy="199.3" rx="22.25" ry="3.8" fill="#f3f3f3"/>
<line x1="450.8" y1="221.9" x2="450.8" y2="228.5" stroke="#000" stroke-width="1.6"/>
<line x1="487.7" y1="221.9" x2="487.7" y2="228.5" stroke="#000" stroke-width="1.6"/>
<rect x="447.0" y="228.5" width="44.5" height="106.8" rx="4.5" fill="#fff"/>
<clipPath id="cp446_227"><rect x="447.0" y="228.5" width="44.5" height="106.8" rx="4.5"/></clipPath>
<g clip-path="url(#cp446_227)">
<rect x="446.0" y="242.7" width="46.5" height="93.60000000000002" fill="#bcd5ef"/>
<ellipse cx="469.25" cy="242.7" rx="21.05" ry="4.7" fill="#9dc0e6"/>
<circle cx="451.2" cy="250.9" r="2.0" fill="url(#nb)"/><circle cx="459.5" cy="252.1" r="2.0" fill="url(#nb)"/><circle cx="474.6" cy="252.8" r="2.0" fill="url(#nb)"/><circle cx="485.3" cy="254.4" r="2.0" fill="url(#nb)"/><circle cx="453.0" cy="260.1" r="2.0" fill="url(#nb)"/><circle cx="465.1" cy="260.1" r="2.0" fill="url(#nb)"/><circle cx="475.1" cy="266.2" r="2.0" fill="url(#nb)"/><circle cx="485.3" cy="268.6" r="2.0" fill="url(#nb)"/><circle cx="453.8" cy="272.6" r="2.0" fill="url(#nb)"/><circle cx="465.6" cy="271.7" r="2.0" fill="url(#nb)"/><circle cx="483.2" cy="280.0" r="2.0" fill="url(#nb)"/><circle cx="455.0" cy="285.2" r="2.0" fill="url(#nb)"/><circle cx="467.8" cy="284.1" r="2.0" fill="url(#nb)"/><circle cx="481.5" cy="291.0" r="2.0" fill="url(#nb)"/><circle cx="452.8" cy="295.2" r="2.0" fill="url(#nb)"/><circle cx="467.8" cy="295.7" r="2.0" fill="url(#nb)"/><circle cx="485.5" cy="299.4" r="2.0" fill="url(#nb)"/><circle cx="458.3" cy="304.4" r="2.0" fill="url(#nb)"/><circle cx="469.6" cy="308.9" r="2.0" fill="url(#nb)"/><circle cx="479.9" cy="308.0" r="2.0" fill="url(#nb)"/><circle cx="450.5" cy="313.7" r="2.0" fill="url(#nb)"/><circle cx="458.7" cy="320.1" r="2.0" fill="url(#nb)"/><circle cx="469.7" cy="319.1" r="2.0" fill="url(#nb)"/><circle cx="482.7" cy="319.4" r="2.0" fill="url(#nb)"/><circle cx="455.2" cy="329.4" r="2.0" fill="url(#nb)"/><circle cx="474.2" cy="329.3" r="2.0" fill="url(#nb)"/>
</g>
<rect x="447.0" y="228.5" width="44.5" height="106.8" rx="4.5" fill="none" stroke="#000" stroke-width="2"/>
<path d="M498.0 199.3 L498.0 220.9 C509.1 223.1 513.5400000000001 221.5 520.2 222.70000000000002 C529.08 223.9 533.52 221.70000000000002 542.4 220.9 L542.4 199.3 Z" fill="url(#capg)"/>
<ellipse cx="520.2" cy="199.3" rx="22.19999999999999" ry="3.8" fill="#f3f3f3"/>
<line x1="501.8" y1="221.9" x2="501.8" y2="228.5" stroke="#000" stroke-width="1.6"/>
<line x1="538.6" y1="221.9" x2="538.6" y2="228.5" stroke="#000" stroke-width="1.6"/>
<rect x="498.0" y="228.5" width="44.39999999999998" height="106.8" rx="4.5" fill="#fff"/>
<clipPath id="cp497_227"><rect x="498.0" y="228.5" width="44.39999999999998" height="106.8" rx="4.5"/></clipPath>
<g clip-path="url(#cp497_227)">
<rect x="497.0" y="242.7" width="46.39999999999998" height="93.60000000000002" fill="#bcd5ef"/>
<ellipse cx="520.2" cy="242.7" rx="20.99999999999999" ry="4.7" fill="#9dc0e6"/>
<circle cx="503.2" cy="250.0" r="2.0" fill="url(#nb)"/><circle cx="533.5" cy="251.0" r="2.0" fill="url(#nb)"/><circle cx="536.6" cy="252.7" r="2.0" fill="url(#nb)"/><circle cx="519.3" cy="257.0" r="2.0" fill="url(#nb)"/><circle cx="522.8" cy="258.2" r="2.0" fill="url(#nb)"/><circle cx="507.9" cy="270.8" r="2.0" fill="url(#nb)"/><circle cx="511.0" cy="273.0" r="2.0" fill="url(#nb)"/><circle cx="529.7" cy="280.0" r="2.0" fill="url(#nb)"/><circle cx="532.5" cy="280.3" r="2.0" fill="url(#nb)"/><circle cx="534.5" cy="282.0" r="2.0" fill="url(#nb)"/><circle cx="536.5" cy="284.0" r="2.0" fill="url(#nb)"/><circle cx="524.0" cy="296.0" r="2.0" fill="url(#nb)"/><circle cx="527.1" cy="296.8" r="2.0" fill="url(#nb)"/><circle cx="530.0" cy="295.6" r="2.0" fill="url(#nb)"/><circle cx="528.7" cy="300.2" r="2.0" fill="url(#nb)"/><circle cx="506.7" cy="301.0" r="2.0" fill="url(#nb)"/><circle cx="509.3" cy="303.7" r="2.0" fill="url(#nb)"/><circle cx="508.4" cy="307.1" r="2.0" fill="url(#nb)"/><circle cx="511.9" cy="306.3" r="2.0" fill="url(#nb)"/><circle cx="511.0" cy="321.8" r="2.0" fill="url(#nb)"/><circle cx="513.6" cy="319.2" r="2.0" fill="url(#nb)"/><circle cx="516.2" cy="317.0" r="2.0" fill="url(#nb)"/><circle cx="518.8" cy="314.6" r="2.0" fill="url(#nb)"/><circle cx="528.3" cy="324.4" r="2.0" fill="url(#nb)"/><circle cx="530.9" cy="327.0" r="2.0" fill="url(#nb)"/><circle cx="534.4" cy="328.4" r="2.0" fill="url(#nb)"/><circle cx="537.3" cy="327.9" r="2.0" fill="url(#nb)"/><circle cx="536.1" cy="330.5" r="2.0" fill="url(#nb)"/>
</g>
<rect x="498.0" y="228.5" width="44.39999999999998" height="106.8" rx="4.5" fill="none" stroke="#000" stroke-width="2"/>
<path d="M549.3 199.3 L549.3 220.9 C560.3499999999999 223.1 564.77 221.5 571.4 222.70000000000002 C580.24 223.9 584.66 221.70000000000002 593.5 220.9 L593.5 199.3 Z" fill="url(#capg)"/>
<ellipse cx="571.4" cy="199.3" rx="22.100000000000023" ry="3.8" fill="#f3f3f3"/>
<line x1="553.0999999999999" y1="221.9" x2="553.0999999999999" y2="228.5" stroke="#000" stroke-width="1.6"/>
<line x1="589.7" y1="221.9" x2="589.7" y2="228.5" stroke="#000" stroke-width="1.6"/>
<rect x="549.3" y="228.5" width="44.200000000000045" height="106.8" rx="4.5" fill="#fff"/>
<clipPath id="cp548_227"><rect x="549.3" y="228.5" width="44.200000000000045" height="106.8" rx="4.5"/></clipPath>
<g clip-path="url(#cp548_227)">
<rect x="548.3" y="242.7" width="46.200000000000045" height="93.60000000000002" fill="#bcd5ef"/>
<ellipse cx="571.4" cy="242.7" rx="20.900000000000023" ry="4.7" fill="#9dc0e6"/>
<circle cx="551.9" cy="332.0" r="2" fill="url(#nb)"/><circle cx="555.6" cy="331.6" r="2" fill="url(#nb)"/><circle cx="558.3" cy="331.7" r="2" fill="url(#nb)"/><circle cx="561.9" cy="331.6" r="2" fill="url(#nb)"/><circle cx="565.5" cy="331.7" r="2" fill="url(#nb)"/><circle cx="569.3" cy="332.7" r="2" fill="url(#nb)"/><circle cx="572.9" cy="331.7" r="2" fill="url(#nb)"/><circle cx="576.3" cy="332.4" r="2" fill="url(#nb)"/><circle cx="579.9" cy="332.6" r="2" fill="url(#nb)"/><circle cx="583.7" cy="331.9" r="2" fill="url(#nb)"/><circle cx="586.6" cy="332.8" r="2" fill="url(#nb)"/><circle cx="589.8" cy="331.9" r="2" fill="url(#nb)"/><circle cx="553.1" cy="329.5" r="2" fill="url(#nb)"/><circle cx="556.4" cy="328.9" r="2" fill="url(#nb)"/><circle cx="560.7" cy="328.3" r="2" fill="url(#nb)"/><circle cx="563.9" cy="329.0" r="2" fill="url(#nb)"/><circle cx="567.5" cy="329.7" r="2" fill="url(#nb)"/><circle cx="571.6" cy="329.6" r="2" fill="url(#nb)"/><circle cx="575.0" cy="329.7" r="2" fill="url(#nb)"/><circle cx="577.7" cy="328.2" r="2" fill="url(#nb)"/><circle cx="581.0" cy="329.4" r="2" fill="url(#nb)"/><circle cx="585.2" cy="329.3" r="2" fill="url(#nb)"/><circle cx="588.9" cy="329.1" r="2" fill="url(#nb)"/><circle cx="551.3" cy="326.1" r="2" fill="url(#nb)"/><circle cx="554.9" cy="326.0" r="2" fill="url(#nb)"/><circle cx="559.0" cy="326.1" r="2" fill="url(#nb)"/><circle cx="562.5" cy="325.0" r="2" fill="url(#nb)"/><circle cx="565.9" cy="325.6" r="2" fill="url(#nb)"/><circle cx="569.8" cy="326.1" r="2" fill="url(#nb)"/><circle cx="572.9" cy="325.8" r="2" fill="url(#nb)"/><circle cx="576.7" cy="325.3" r="2" fill="url(#nb)"/><circle cx="580.2" cy="325.3" r="2" fill="url(#nb)"/><circle cx="583.6" cy="325.4" r="2" fill="url(#nb)"/><circle cx="587.1" cy="325.1" r="2" fill="url(#nb)"/><circle cx="590.0" cy="326.2" r="2" fill="url(#nb)"/>
</g>
<rect x="549.3" y="228.5" width="44.200000000000045" height="106.8" rx="4.5" fill="none" stroke="#000" stroke-width="2"/>
<path d="M363.9 346.8 L363.9 368.4 C375.09999999999997 370.59999999999997 379.5799999999999 369.0 386.29999999999995 370.2 C395.25999999999993 371.4 399.74 369.2 408.7 368.4 L408.7 346.8 Z" fill="url(#capg)"/>
<ellipse cx="386.29999999999995" cy="346.8" rx="22.400000000000006" ry="3.8" fill="#f3f3f3"/>
<line x1="367.7" y1="369.4" x2="367.7" y2="376.0" stroke="#000" stroke-width="1.6"/>
<line x1="404.9" y1="369.4" x2="404.9" y2="376.0" stroke="#000" stroke-width="1.6"/>
<rect x="363.9" y="376.0" width="44.80000000000001" height="106.8" rx="4.5" fill="#fff"/>
<clipPath id="cp362_375"><rect x="363.9" y="376.0" width="44.80000000000001" height="106.8" rx="4.5"/></clipPath>
<g clip-path="url(#cp362_375)">
<rect x="362.9" y="390.2" width="46.80000000000001" height="93.60000000000002" fill="#bcd5ef"/>
<ellipse cx="386.29999999999995" cy="390.2" rx="21.200000000000006" ry="4.7" fill="#9dc0e6"/>
<circle cx="375.1" cy="396.7" r="1.2" fill="#c83848"/><circle cx="402" cy="397.3" r="1.2" fill="#c83848"/><circle cx="383.6" cy="402.8" r="1.2" fill="#1414a0"/><circle cx="392.9" cy="401.9" r="1.2" fill="#1414a0"/><circle cx="368.9" cy="404.2" r="1.2" fill="#c83848"/><circle cx="375.9" cy="407.4" r="1.2" fill="#1414a0"/><circle cx="401.2" cy="406.3" r="1.2" fill="#1414a0"/><circle cx="383.3" cy="410.6" r="1.2" fill="#c83848"/><circle cx="393.8" cy="410.0" r="1.2" fill="#c83848"/><circle cx="375" cy="416.7" r="1.2" fill="#c83848"/><circle cx="386.3" cy="419.1" r="1.2" fill="#1414a0"/><circle cx="368.4" cy="423.0" r="1.2" fill="#1414a0"/><circle cx="395.7" cy="421.8" r="1.2" fill="#c83848"/><circle cx="405.3" cy="421.5" r="1.2" fill="#c83848"/><circle cx="377.2" cy="426.4" r="1.2" fill="#c83848"/><circle cx="382.9" cy="430.5" r="1.2" fill="#1414a0"/><circle cx="397.9" cy="430.5" r="1.2" fill="#1414a0"/><circle cx="373.9" cy="436.7" r="1.2" fill="#c83848"/><circle cx="390.8" cy="435.6" r="1.2" fill="#c83848"/><circle cx="367.7" cy="441.8" r="1.2" fill="#1414a0"/><circle cx="387.2" cy="442.2" r="1.2" fill="#c83848"/><circle cx="401.2" cy="443.0" r="1.2" fill="#c83848"/><circle cx="378.9" cy="447.2" r="1.2" fill="#1414a0"/><circle cx="372.3" cy="450.3" r="1.2" fill="#c83848"/><circle cx="385" cy="450.8" r="1.2" fill="#c83848"/><circle cx="392.8" cy="450.5" r="1.2" fill="#1414a0"/><circle cx="401.1" cy="452.8" r="1.2" fill="#c83848"/><circle cx="368.1" cy="457.0" r="1.2" fill="#1414a0"/><circle cx="375.6" cy="460.3" r="1.2" fill="#c83848"/><circle cx="383.3" cy="458.6" r="1.2" fill="#c83848"/><circle cx="390.8" cy="459.4" r="1.2" fill="#1414a0"/><circle cx="398.9" cy="461.4" r="1.2" fill="#c83848"/><circle cx="370.75" cy="469.5" r="1.2" fill="#c83848"/><circle cx="379.7" cy="467.2" r="1.2" fill="#1414a0"/><circle cx="391.1" cy="468.1" r="1.2" fill="#c83848"/><circle cx="400.75" cy="470.8" r="1.2" fill="#1414a0"/><circle cx="386.2" cy="474.1" r="1.2" fill="#c83848"/><circle cx="375.25" cy="478.4" r="1.2" fill="#c83848"/><circle cx="393.4" cy="479.1" r="1.2" fill="#1414a0"/><circle cx="402.3" cy="479.6" r="1.2" fill="#c83848"/>
</g>
<rect x="363.9" y="376.0" width="44.80000000000001" height="106.8" rx="4.5" fill="none" stroke="#000" stroke-width="2"/>
<path d="M447.0 346.8 L447.0 368.4 C458.125 370.59999999999997 462.575 369.0 469.25 370.2 C478.15 371.4 482.6 369.2 491.5 368.4 L491.5 346.8 Z" fill="url(#capg)"/>
<ellipse cx="469.25" cy="346.8" rx="22.25" ry="3.8" fill="#f3f3f3"/>
<line x1="450.8" y1="369.4" x2="450.8" y2="376.0" stroke="#000" stroke-width="1.6"/>
<line x1="487.7" y1="369.4" x2="487.7" y2="376.0" stroke="#000" stroke-width="1.6"/>
<rect x="447.0" y="376.0" width="44.5" height="106.8" rx="4.5" fill="#fff"/>
<clipPath id="cp446_375"><rect x="447.0" y="376.0" width="44.5" height="106.8" rx="4.5"/></clipPath>
<g clip-path="url(#cp446_375)">
<rect x="446.0" y="390.2" width="46.5" height="93.60000000000002" fill="#bcd5ef"/>
<ellipse cx="469.25" cy="390.2" rx="21.05" ry="4.7" fill="#9dc0e6"/>
<circle cx="451.2" cy="398.4" r="2.0" fill="url(#np)"/><circle cx="459.5" cy="399.6" r="2.0" fill="url(#np)"/><circle cx="474.6" cy="400.3" r="2.0" fill="url(#np)"/><circle cx="485.3" cy="401.9" r="2.0" fill="url(#np)"/><circle cx="453.0" cy="407.6" r="2.0" fill="url(#np)"/><circle cx="465.1" cy="407.6" r="2.0" fill="url(#np)"/><circle cx="475.1" cy="413.7" r="2.0" fill="url(#np)"/><circle cx="485.3" cy="416.1" r="2.0" fill="url(#np)"/><circle cx="453.8" cy="420.1" r="2.0" fill="url(#np)"/><circle cx="465.6" cy="419.2" r="2.0" fill="url(#np)"/><circle cx="483.2" cy="427.5" r="2.0" fill="url(#np)"/><circle cx="455.0" cy="432.7" r="2.0" fill="url(#np)"/><circle cx="467.8" cy="431.6" r="2.0" fill="url(#np)"/><circle cx="481.5" cy="438.5" r="2.0" fill="url(#np)"/><circle cx="452.8" cy="442.7" r="2.0" fill="url(#np)"/><circle cx="467.8" cy="443.2" r="2.0" fill="url(#np)"/><circle cx="485.5" cy="446.9" r="2.0" fill="url(#np)"/><circle cx="458.3" cy="451.9" r="2.0" fill="url(#np)"/><circle cx="469.6" cy="456.4" r="2.0" fill="url(#np)"/><circle cx="479.9" cy="455.5" r="2.0" fill="url(#np)"/><circle cx="450.5" cy="461.2" r="2.0" fill="url(#np)"/><circle cx="458.7" cy="467.6" r="2.0" fill="url(#np)"/><circle cx="469.7" cy="466.6" r="2.0" fill="url(#np)"/><circle cx="482.7" cy="466.9" r="2.0" fill="url(#np)"/><circle cx="455.2" cy="476.9" r="2.0" fill="url(#np)"/><circle cx="474.2" cy="476.8" r="2.0" fill="url(#np)"/>
</g>
<rect x="447.0" y="376.0" width="44.5" height="106.8" rx="4.5" fill="none" stroke="#000" stroke-width="2"/>
<path d="M498.0 346.8 L498.0 368.4 C509.1 370.59999999999997 513.5400000000001 369.0 520.2 370.2 C529.08 371.4 533.52 369.2 542.4 368.4 L542.4 346.8 Z" fill="url(#capg)"/>
<ellipse cx="520.2" cy="346.8" rx="22.19999999999999" ry="3.8" fill="#f3f3f3"/>
<line x1="501.8" y1="369.4" x2="501.8" y2="376.0" stroke="#000" stroke-width="1.6"/>
<line x1="538.6" y1="369.4" x2="538.6" y2="376.0" stroke="#000" stroke-width="1.6"/>
<rect x="498.0" y="376.0" width="44.39999999999998" height="106.8" rx="4.5" fill="#fff"/>
<clipPath id="cp497_375"><rect x="498.0" y="376.0" width="44.39999999999998" height="106.8" rx="4.5"/></clipPath>
<g clip-path="url(#cp497_375)">
<rect x="497.0" y="390.2" width="46.39999999999998" height="93.60000000000002" fill="#bcd5ef"/>
<ellipse cx="520.2" cy="390.2" rx="20.99999999999999" ry="4.7" fill="#9dc0e6"/>
<circle cx="527.2" cy="410.0" r="2.0" fill="url(#np)"/><circle cx="513.3" cy="416.0" r="2.0" fill="url(#np)"/><circle cx="515.8" cy="418.7" r="2.0" fill="url(#np)"/><circle cx="535.3" cy="425.9" r="2.0" fill="url(#np)"/><circle cx="535.3" cy="429.5" r="2.0" fill="url(#np)"/><circle cx="518.1" cy="438.5" r="2.0" fill="url(#np)"/><circle cx="521.8" cy="438.9" r="2.0" fill="url(#np)"/><circle cx="506.4" cy="449.3" r="2.0" fill="url(#np)"/><circle cx="509.1" cy="447.2" r="2.0" fill="url(#np)"/><circle cx="510.9" cy="450.2" r="2.0" fill="url(#np)"/><circle cx="520.0" cy="462.0" r="2.0" fill="url(#np)"/><circle cx="523.0" cy="461.0" r="2.0" fill="url(#np)"/><circle cx="522.7" cy="464.7" r="2.0" fill="url(#np)"/><circle cx="520.8" cy="467.4" r="2.0" fill="url(#np)"/><circle cx="535.3" cy="468.8" r="2.0" fill="url(#np)"/><circle cx="538.5" cy="469.7" r="2.0" fill="url(#np)"/><circle cx="533.8" cy="473.7" r="2.0" fill="url(#np)"/><circle cx="536.7" cy="472.8" r="2.0" fill="url(#np)"/><circle cx="502.8" cy="476.4" r="2.0" fill="url(#np)"/><circle cx="505.5" cy="478.2" r="2.0" fill="url(#np)"/><circle cx="509.1" cy="477.3" r="2.0" fill="url(#np)"/><circle cx="511.8" cy="475.5" r="2.0" fill="url(#np)"/><circle cx="501.9" cy="479.0" r="2.0" fill="url(#np)"/><circle cx="520.0" cy="479.0" r="2.0" fill="url(#np)"/><circle cx="523.6" cy="479.6" r="2.0" fill="url(#np)"/><circle cx="526.3" cy="477.3" r="2.0" fill="url(#np)"/><circle cx="527.2" cy="479.6" r="2.0" fill="url(#np)"/>
</g>
<rect x="498.0" y="376.0" width="44.39999999999998" height="106.8" rx="4.5" fill="none" stroke="#000" stroke-width="2"/>
<path d="M549.3 346.8 L549.3 368.4 C560.3499999999999 370.59999999999997 564.77 369.0 571.4 370.2 C580.24 371.4 584.66 369.2 593.5 368.4 L593.5 346.8 Z" fill="url(#capg)"/>
<ellipse cx="571.4" cy="346.8" rx="22.100000000000023" ry="3.8" fill="#f3f3f3"/>
<line x1="553.0999999999999" y1="369.4" x2="553.0999999999999" y2="376.0" stroke="#000" stroke-width="1.6"/>
<line x1="589.7" y1="369.4" x2="589.7" y2="376.0" stroke="#000" stroke-width="1.6"/>
<rect x="549.3" y="376.0" width="44.200000000000045" height="106.8" rx="4.5" fill="#fff"/>
<clipPath id="cp548_375"><rect x="549.3" y="376.0" width="44.200000000000045" height="106.8" rx="4.5"/></clipPath>
<g clip-path="url(#cp548_375)">
<rect x="548.3" y="390.2" width="46.200000000000045" height="93.60000000000002" fill="#bcd5ef"/>
<ellipse cx="571.4" cy="390.2" rx="20.900000000000023" ry="4.7" fill="#9dc0e6"/>
<circle cx="551.5" cy="480.0" r="2" fill="url(#np)"/><circle cx="555.8" cy="478.9" r="2" fill="url(#np)"/><circle cx="558.7" cy="480.2" r="2" fill="url(#np)"/><circle cx="561.8" cy="480.2" r="2" fill="url(#np)"/><circle cx="566.4" cy="480.4" r="2" fill="url(#np)"/><circle cx="569.1" cy="479.5" r="2" fill="url(#np)"/><circle cx="572.3" cy="479.8" r="2" fill="url(#np)"/><circle cx="576.0" cy="479.4" r="2" fill="url(#np)"/><circle cx="579.6" cy="479.3" r="2" fill="url(#np)"/><circle cx="583.7" cy="480.4" r="2" fill="url(#np)"/><circle cx="586.8" cy="479.0" r="2" fill="url(#np)"/><circle cx="590.7" cy="479.0" r="2" fill="url(#np)"/><circle cx="553.6" cy="476.6" r="2" fill="url(#np)"/><circle cx="556.8" cy="476.5" r="2" fill="url(#np)"/><circle cx="560.6" cy="476.8" r="2" fill="url(#np)"/><circle cx="564.3" cy="475.8" r="2" fill="url(#np)"/><circle cx="567.1" cy="476.0" r="2" fill="url(#np)"/><circle cx="570.9" cy="475.6" r="2" fill="url(#np)"/><circle cx="575.1" cy="475.6" r="2" fill="url(#np)"/><circle cx="578.5" cy="477.0" r="2" fill="url(#np)"/><circle cx="581.0" cy="476.3" r="2" fill="url(#np)"/><circle cx="584.6" cy="476.0" r="2" fill="url(#np)"/><circle cx="588.6" cy="476.4" r="2" fill="url(#np)"/><circle cx="551.6" cy="473.4" r="2" fill="url(#np)"/><circle cx="555.7" cy="472.3" r="2" fill="url(#np)"/><circle cx="558.5" cy="472.8" r="2" fill="url(#np)"/><circle cx="561.9" cy="473.4" r="2" fill="url(#np)"/><circle cx="566.2" cy="473.8" r="2" fill="url(#np)"/><circle cx="569.1" cy="473.3" r="2" fill="url(#np)"/><circle cx="572.3" cy="472.5" r="2" fill="url(#np)"/><circle cx="576.2" cy="472.9" r="2" fill="url(#np)"/><circle cx="579.2" cy="472.8" r="2" fill="url(#np)"/><circle cx="583.0" cy="473.7" r="2" fill="url(#np)"/><circle cx="586.2" cy="473.5" r="2" fill="url(#np)"/><circle cx="590.7" cy="473.7" r="2" fill="url(#np)"/>
</g>
<rect x="549.3" y="376.0" width="44.200000000000045" height="106.8" rx="4.5" fill="none" stroke="#000" stroke-width="2"/>
<path d="M363.9 494.50000000000006 L363.9 516.1 C375.09999999999997 518.3000000000001 379.5799999999999 516.7 386.29999999999995 517.9 C395.25999999999993 519.1 399.74 516.9 408.7 516.1 L408.7 494.50000000000006 Z" fill="url(#capg)"/>
<ellipse cx="386.29999999999995" cy="494.50000000000006" rx="22.400000000000006" ry="3.8" fill="#f3f3f3"/>
<line x1="367.7" y1="517.1" x2="367.7" y2="523.7" stroke="#000" stroke-width="1.6"/>
<line x1="404.9" y1="517.1" x2="404.9" y2="523.7" stroke="#000" stroke-width="1.6"/>
<rect x="363.9" y="523.7" width="44.80000000000001" height="106.8" rx="4.5" fill="#fff"/>
<clipPath id="cp362_522"><rect x="363.9" y="523.7" width="44.80000000000001" height="106.8" rx="4.5"/></clipPath>
<g clip-path="url(#cp362_522)">
<rect x="362.9" y="537.9000000000001" width="46.80000000000001" height="93.59999999999991" fill="#bcd5ef"/>
<ellipse cx="386.29999999999995" cy="537.9000000000001" rx="21.200000000000006" ry="4.7" fill="#9dc0e6"/>
<circle cx="375.1" cy="544.4" r="1.3" fill="#d42850"/><circle cx="402" cy="545.0" r="1.3" fill="#d42850"/><circle cx="383.6" cy="550.5" r="1.3" fill="#d42850"/><circle cx="392.9" cy="549.6" r="1.3" fill="#d42850"/><circle cx="368.9" cy="551.9" r="1.3" fill="#d42850"/><circle cx="375.9" cy="555.1" r="1.3" fill="#d42850"/><circle cx="401.2" cy="554.0" r="1.3" fill="#d42850"/><circle cx="383.3" cy="558.3" r="1.3" fill="#d42850"/><circle cx="393.8" cy="557.7" r="1.3" fill="#d42850"/><circle cx="375" cy="564.4" r="1.3" fill="#d42850"/><circle cx="386.3" cy="566.8" r="1.3" fill="#d42850"/><circle cx="368.4" cy="570.7" r="1.3" fill="#d42850"/><circle cx="395.7" cy="569.5" r="1.3" fill="#d42850"/><circle cx="405.3" cy="569.2" r="1.3" fill="#d42850"/><circle cx="377.2" cy="574.1" r="1.3" fill="#d42850"/><circle cx="382.9" cy="578.2" r="1.3" fill="#d42850"/><circle cx="397.9" cy="578.2" r="1.3" fill="#d42850"/><circle cx="373.9" cy="584.4" r="1.3" fill="#d42850"/><circle cx="390.8" cy="583.3" r="1.3" fill="#d42850"/><circle cx="367.7" cy="589.5" r="1.3" fill="#d42850"/><circle cx="387.2" cy="589.9" r="1.3" fill="#d42850"/><circle cx="401.2" cy="590.7" r="1.3" fill="#d42850"/><circle cx="378.9" cy="594.9" r="1.3" fill="#d42850"/><circle cx="372.3" cy="598.0" r="1.3" fill="#d42850"/><circle cx="385" cy="598.5" r="1.3" fill="#d42850"/><circle cx="392.8" cy="598.2" r="1.3" fill="#d42850"/><circle cx="401.1" cy="600.5" r="1.3" fill="#d42850"/><circle cx="368.1" cy="604.7" r="1.3" fill="#d42850"/><circle cx="375.6" cy="608.0" r="1.3" fill="#d42850"/><circle cx="383.3" cy="606.3" r="1.3" fill="#d42850"/><circle cx="390.8" cy="607.1" r="1.3" fill="#d42850"/><circle cx="398.9" cy="609.1" r="1.3" fill="#d42850"/><circle cx="370.75" cy="617.2" r="1.3" fill="#d42850"/><circle cx="379.7" cy="615.0" r="1.3" fill="#d42850"/><circle cx="391.1" cy="615.8" r="1.3" fill="#d42850"/><circle cx="400.75" cy="618.5" r="1.3" fill="#d42850"/><circle cx="386.2" cy="621.8" r="1.3" fill="#d42850"/><circle cx="375.25" cy="626.1" r="1.3" fill="#d42850"/><circle cx="393.4" cy="626.8" r="1.3" fill="#d42850"/><circle cx="402.3" cy="627.3" r="1.3" fill="#d42850"/>
</g>
<rect x="363.9" y="523.7" width="44.80000000000001" height="106.8" rx="4.5" fill="none" stroke="#000" stroke-width="2"/>
<path d="M447.0 494.50000000000006 L447.0 516.1 C458.125 518.3000000000001 462.575 516.7 469.25 517.9 C478.15 519.1 482.6 516.9 491.5 516.1 L491.5 494.50000000000006 Z" fill="url(#capg)"/>
<ellipse cx="469.25" cy="494.50000000000006" rx="22.25" ry="3.8" fill="#f3f3f3"/>
<line x1="450.8" y1="517.1" x2="450.8" y2="523.7" stroke="#000" stroke-width="1.6"/>
<line x1="487.7" y1="517.1" x2="487.7" y2="523.7" stroke="#000" stroke-width="1.6"/>
<rect x="447.0" y="523.7" width="44.5" height="106.8" rx="4.5" fill="#fff"/>
<clipPath id="cp446_522"><rect x="447.0" y="523.7" width="44.5" height="106.8" rx="4.5"/></clipPath>
<g clip-path="url(#cp446_522)">
<rect x="446.0" y="537.9000000000001" width="46.5" height="93.59999999999991" fill="#bcd5ef"/>
<ellipse cx="469.25" cy="537.9000000000001" rx="21.05" ry="4.7" fill="#9dc0e6"/>
<circle cx="451.2" cy="546.1" r="2.0" fill="url(#nr)"/><circle cx="459.5" cy="547.3" r="2.0" fill="url(#nr)"/><circle cx="474.6" cy="548.0" r="2.0" fill="url(#nr)"/><circle cx="485.3" cy="549.6" r="2.0" fill="url(#nr)"/><circle cx="453.0" cy="555.3" r="2.0" fill="url(#nr)"/><circle cx="465.1" cy="555.3" r="2.0" fill="url(#nr)"/><circle cx="475.1" cy="561.4" r="2.0" fill="url(#nr)"/><circle cx="485.3" cy="563.8" r="2.0" fill="url(#nr)"/><circle cx="453.8" cy="567.8" r="2.0" fill="url(#nr)"/><circle cx="465.6" cy="566.9" r="2.0" fill="url(#nr)"/><circle cx="483.2" cy="575.2" r="2.0" fill="url(#nr)"/><circle cx="455.0" cy="580.4" r="2.0" fill="url(#nr)"/><circle cx="467.8" cy="579.3" r="2.0" fill="url(#nr)"/><circle cx="481.5" cy="586.2" r="2.0" fill="url(#nr)"/><circle cx="452.8" cy="590.4" r="2.0" fill="url(#nr)"/><circle cx="467.8" cy="590.9" r="2.0" fill="url(#nr)"/><circle cx="485.5" cy="594.6" r="2.0" fill="url(#nr)"/><circle cx="458.3" cy="599.6" r="2.0" fill="url(#nr)"/><circle cx="469.6" cy="604.1" r="2.0" fill="url(#nr)"/><circle cx="479.9" cy="603.2" r="2.0" fill="url(#nr)"/><circle cx="450.5" cy="608.9" r="2.0" fill="url(#nr)"/><circle cx="458.7" cy="615.3" r="2.0" fill="url(#nr)"/><circle cx="469.7" cy="614.3" r="2.0" fill="url(#nr)"/><circle cx="482.7" cy="614.6" r="2.0" fill="url(#nr)"/><circle cx="455.2" cy="624.6" r="2.0" fill="url(#nr)"/><circle cx="474.2" cy="624.5" r="2.0" fill="url(#nr)"/>
</g>
<rect x="447.0" y="523.7" width="44.5" height="106.8" rx="4.5" fill="none" stroke="#000" stroke-width="2"/>
<path d="M498.0 494.50000000000006 L498.0 516.1 C509.1 518.3000000000001 513.5400000000001 516.7 520.2 517.9 C529.08 519.1 533.52 516.9 542.4 516.1 L542.4 494.50000000000006 Z" fill="url(#capg)"/>
<ellipse cx="520.2" cy="494.50000000000006" rx="22.19999999999999" ry="3.8" fill="#f3f3f3"/>
<line x1="501.8" y1="517.1" x2="501.8" y2="523.7" stroke="#000" stroke-width="1.6"/>
<line x1="538.6" y1="517.1" x2="538.6" y2="523.7" stroke="#000" stroke-width="1.6"/>
<rect x="498.0" y="523.7" width="44.39999999999998" height="106.8" rx="4.5" fill="#fff"/>
<clipPath id="cp497_522"><rect x="498.0" y="523.7" width="44.39999999999998" height="106.8" rx="4.5"/></clipPath>
<g clip-path="url(#cp497_522)">
<rect x="497.0" y="537.9000000000001" width="46.39999999999998" height="93.59999999999991" fill="#bcd5ef"/>
<ellipse cx="520.2" cy="537.9000000000001" rx="20.99999999999999" ry="4.7" fill="#9dc0e6"/>
<circle cx="510.0" cy="598.5" r="2.0" fill="url(#nr)"/><circle cx="513.0" cy="599.0" r="2.0" fill="url(#nr)"/><circle cx="501.0" cy="602.5" r="2.0" fill="url(#nr)"/><circle cx="519.0" cy="608.0" r="2.0" fill="url(#nr)"/><circle cx="522.0" cy="609.0" r="2.0" fill="url(#nr)"/><circle cx="516.0" cy="612.0" r="2.0" fill="url(#nr)"/><circle cx="537.5" cy="602.0" r="2.0" fill="url(#nr)"/><circle cx="538.0" cy="605.5" r="2.0" fill="url(#nr)"/><circle cx="523.0" cy="614.5" r="2.0" fill="url(#nr)"/><circle cx="521.0" cy="617.0" r="2.0" fill="url(#nr)"/><circle cx="525.0" cy="618.0" r="2.0" fill="url(#nr)"/><circle cx="534.0" cy="614.0" r="2.0" fill="url(#nr)"/><circle cx="537.0" cy="615.5" r="2.0" fill="url(#nr)"/><circle cx="500.5" cy="624.0" r="2.0" fill="url(#nr)"/><circle cx="503.0" cy="626.5" r="2.0" fill="url(#nr)"/><circle cx="506.0" cy="625.0" r="2.0" fill="url(#nr)"/><circle cx="509.0" cy="623.0" r="2.0" fill="url(#nr)"/><circle cx="512.0" cy="626.0" r="2.0" fill="url(#nr)"/><circle cx="500.0" cy="627.5" r="2.0" fill="url(#nr)"/><circle cx="517.0" cy="623.0" r="2.0" fill="url(#nr)"/><circle cx="520.0" cy="626.0" r="2.0" fill="url(#nr)"/><circle cx="524.0" cy="624.0" r="2.0" fill="url(#nr)"/><circle cx="527.0" cy="626.5" r="2.0" fill="url(#nr)"/><circle cx="531.0" cy="621.5" r="2.0" fill="url(#nr)"/><circle cx="536.0" cy="620.0" r="2.0" fill="url(#nr)"/><circle cx="539.0" cy="622.0" r="2.0" fill="url(#nr)"/><circle cx="535.0" cy="625.0" r="2.0" fill="url(#nr)"/><circle cx="538.0" cy="627.5" r="2.0" fill="url(#nr)"/><circle cx="532.0" cy="627.0" r="2.0" fill="url(#nr)"/>
</g>
<rect x="498.0" y="523.7" width="44.39999999999998" height="106.8" rx="4.5" fill="none" stroke="#000" stroke-width="2"/>
<path d="M549.3 494.50000000000006 L549.3 516.1 C560.3499999999999 518.3000000000001 564.77 516.7 571.4 517.9 C580.24 519.1 584.66 516.9 593.5 516.1 L593.5 494.50000000000006 Z" fill="url(#capg)"/>
<ellipse cx="571.4" cy="494.50000000000006" rx="22.100000000000023" ry="3.8" fill="#f3f3f3"/>
<line x1="553.0999999999999" y1="517.1" x2="553.0999999999999" y2="523.7" stroke="#000" stroke-width="1.6"/>
<line x1="589.7" y1="517.1" x2="589.7" y2="523.7" stroke="#000" stroke-width="1.6"/>
<rect x="549.3" y="523.7" width="44.200000000000045" height="106.8" rx="4.5" fill="#fff"/>
<clipPath id="cp548_522"><rect x="549.3" y="523.7" width="44.200000000000045" height="106.8" rx="4.5"/></clipPath>
<g clip-path="url(#cp548_522)">
<rect x="548.3" y="537.9000000000001" width="46.200000000000045" height="93.59999999999991" fill="#bcd5ef"/>
<ellipse cx="571.4" cy="537.9000000000001" rx="20.900000000000023" ry="4.7" fill="#9dc0e6"/>
<circle cx="552.1" cy="627.1" r="2" fill="url(#nr)"/><circle cx="555.1" cy="628.2" r="2" fill="url(#nr)"/><circle cx="559.3" cy="626.6" r="2" fill="url(#nr)"/><circle cx="562.4" cy="627.3" r="2" fill="url(#nr)"/><circle cx="566.4" cy="627.2" r="2" fill="url(#nr)"/><circle cx="569.5" cy="626.8" r="2" fill="url(#nr)"/><circle cx="573.2" cy="627.6" r="2" fill="url(#nr)"/><circle cx="576.8" cy="627.5" r="2" fill="url(#nr)"/><circle cx="580.4" cy="627.4" r="2" fill="url(#nr)"/><circle cx="583.3" cy="626.6" r="2" fill="url(#nr)"/><circle cx="587.3" cy="627.3" r="2" fill="url(#nr)"/><circle cx="590.6" cy="627.9" r="2" fill="url(#nr)"/><circle cx="552.9" cy="623.4" r="2" fill="url(#nr)"/><circle cx="557.0" cy="624.4" r="2" fill="url(#nr)"/><circle cx="560.2" cy="624.2" r="2" fill="url(#nr)"/><circle cx="563.6" cy="624.2" r="2" fill="url(#nr)"/><circle cx="568.1" cy="624.6" r="2" fill="url(#nr)"/><circle cx="570.4" cy="623.8" r="2" fill="url(#nr)"/><circle cx="575.0" cy="623.8" r="2" fill="url(#nr)"/><circle cx="578.5" cy="623.4" r="2" fill="url(#nr)"/><circle cx="581.2" cy="624.7" r="2" fill="url(#nr)"/><circle cx="585.2" cy="624.0" r="2" fill="url(#nr)"/><circle cx="588.9" cy="624.7" r="2" fill="url(#nr)"/><circle cx="551.5" cy="620.8" r="2" fill="url(#nr)"/><circle cx="555.5" cy="620.2" r="2" fill="url(#nr)"/><circle cx="558.4" cy="621.4" r="2" fill="url(#nr)"/><circle cx="562.7" cy="620.0" r="2" fill="url(#nr)"/><circle cx="566.3" cy="620.1" r="2" fill="url(#nr)"/><circle cx="569.2" cy="620.2" r="2" fill="url(#nr)"/><circle cx="572.9" cy="621.6" r="2" fill="url(#nr)"/><circle cx="576.3" cy="620.1" r="2" fill="url(#nr)"/><circle cx="579.5" cy="620.2" r="2" fill="url(#nr)"/><circle cx="582.8" cy="621.4" r="2" fill="url(#nr)"/><circle cx="586.9" cy="620.3" r="2" fill="url(#nr)"/><circle cx="590.3" cy="620.1" r="2" fill="url(#nr)"/>
</g>
<rect x="549.3" y="523.7" width="44.200000000000045" height="106.8" rx="4.5" fill="none" stroke="#000" stroke-width="2"/>
<line x1="342.8" y1="242.8" x2="342.8" y2="251" stroke="#000" stroke-width="1.5"/>
<path d="M340.3 250 L345.3 250 L342.8 255 Z" fill="#000"/>
<text x="347.6" y="253.4" style="font-family:'Liberation Sans',Arial,sans-serif;font-weight:bold;font-size:10.5px" fill="#000">G</text>
<line x1="342.6" y1="390.8" x2="342.6" y2="410.5" stroke="#000" stroke-width="1.5"/>
<path d="M340.1 409.5 L345.1 409.5 L342.6 414.5 Z" fill="#000"/>
<text x="347.4" y="407.5" style="font-family:'Liberation Sans',Arial,sans-serif;font-weight:bold;font-size:10.5px" fill="#000">G</text>
<line x1="342.6" y1="538" x2="342.6" y2="578" stroke="#000" stroke-width="1.5"/>
<path d="M340.1 577 L345.1 577 L342.6 582 Z" fill="#000"/>
<text x="347.9" y="560.2" style="font-family:'Liberation Sans',Arial,sans-serif;font-weight:bold;font-size:10.5px" fill="#000">G</text>
<text x="415.2" y="436.8" style="font-family:'Liberation Sans',Arial,sans-serif;font-weight:bold;font-size:8.9px" fill="#000">NaBH<tspan font-size="6px" dy="2.2">4</tspan></text>
<line x1="413.2" y1="444" x2="440" y2="444" stroke="#000" stroke-width="1.4"/>
<path d="M439.3 441.9 L443.8 444 L439.3 446.1 Z" fill="#000"/>
<rect x="606.2" y="289" width="5.8" height="279" fill="url(#bar)"/>
<path d="M603.3 566.8 L614.8 566.8 L609 582 Z" fill="#ff0022"/>
<g transform="translate(630.3,459) rotate(-90)" style="font-family:'Liberation Sans',Arial,sans-serif;font-weight:bold" fill="#000"><text x="0" y="0" font-size="12px" font-style="italic">ρ</text><text x="7.4" y="2.2" font-size="7.6px">ab</text><text x="22.8" y="0.3" font-size="12px">,</text><text x="29.6" y="-0.2" font-size="11.5px" font-style="italic">v</text><text x="36.2" y="2.4" font-size="7.6px">t</text><line x1="19.4" y1="-1.2" x2="19.4" y2="-7.5" stroke="#000" stroke-width="1.2"/><path d="M18 -7 L20.8 -7 L19.4 -9.6 Z"/><line x1="44" y1="-1.2" x2="44" y2="-7.5" stroke="#000" stroke-width="1.2"/><path d="M42.6 -7 L45.4 -7 L44 -9.6 Z"/></g>
</svg></body></html>
